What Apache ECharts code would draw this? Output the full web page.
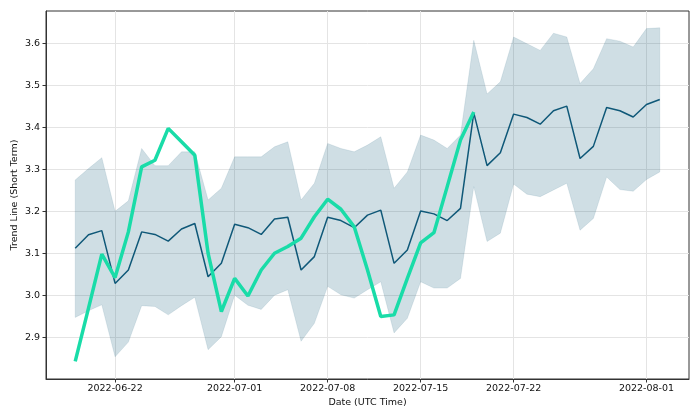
<!DOCTYPE html>
<html>
<head>
<meta charset="utf-8">
<script src="https://cdn.jsdelivr.net/npm/echarts@6/dist/echarts.min.js"></script>
<style>
html,body{margin:0;padding:0;background:#fff;}
#chart{width:699px;height:419px;}
</style>
</head>
<body>
<div id="chart"></div>
<script>
const dates = [
  '2022-06-19','2022-06-20','2022-06-21','2022-06-22','2022-06-23','2022-06-24','2022-06-25','2022-06-26','2022-06-27','2022-06-28',
  '2022-06-29','2022-06-30','2022-07-01','2022-07-02','2022-07-03','2022-07-04','2022-07-05','2022-07-06','2022-07-07','2022-07-08',
  '2022-07-09','2022-07-10','2022-07-11','2022-07-12','2022-07-13','2022-07-14','2022-07-15','2022-07-16','2022-07-17','2022-07-18',
  '2022-07-19','2022-07-20','2022-07-21','2022-07-22','2022-07-23','2022-07-24','2022-07-25','2022-07-26','2022-07-27','2022-07-28',
  '2022-07-29','2022-07-30','2022-07-31','2022-08-01','2022-08-02'
];
const trend = [
  3.112,3.144,3.154,3.028,3.060,3.151,3.145,3.129,3.158,3.171,
  3.044,3.076,3.169,3.161,3.145,3.182,3.186,3.060,3.092,3.186,
  3.178,3.161,3.191,3.203,3.076,3.108,3.201,3.194,3.178,3.207,
  3.435,3.309,3.340,3.432,3.424,3.408,3.440,3.451,3.326,3.355,
  3.448,3.440,3.425,3.455,3.467
];
const upper = [
  3.275,3.302,3.328,3.200,3.225,3.350,3.309,3.309,3.342,3.342,
  3.227,3.255,3.330,3.330,3.330,3.354,3.366,3.227,3.267,3.362,
  3.350,3.342,3.358,3.378,3.255,3.294,3.382,3.370,3.350,3.382,
  3.608,3.480,3.509,3.616,3.600,3.584,3.625,3.616,3.505,3.540,
  3.612,3.606,3.592,3.636,3.638
];
const lower = [
  2.947,2.963,2.977,2.853,2.888,2.975,2.973,2.953,2.975,2.995,
  2.870,2.901,3.000,2.976,2.966,3.000,3.013,2.890,2.933,3.021,
  3.001,2.993,3.013,3.032,2.910,2.945,3.032,3.017,3.017,3.040,
  3.259,3.128,3.148,3.265,3.241,3.235,3.251,3.267,3.155,3.183,
  3.282,3.252,3.248,3.276,3.294
];
const actual = [
  2.842,2.969,3.098,3.042,3.151,3.306,3.322,3.398,3.366,3.334,
  3.100,2.961,3.040,2.998,3.060,3.100,3.116,3.136,3.187,3.229,
  3.205,3.163,3.060,2.949,2.953,3.040,3.125,3.149,3.259,3.370,
  3.437
];
const xTickLabels = ['2022-06-22','2022-07-01','2022-07-08','2022-07-15','2022-07-22','2022-08-01'];
const yTickLabels = [2.9,3.0,3.1,3.2,3.3,3.4,3.5,3.6];

const DAY = 86400000;
function ts(s){ const p = s.split('-'); return Date.UTC(+p[0], +p[1]-1, +p[2]) / DAY; }
function fmt(v){ const d = new Date(Math.round(v) * DAY); const m = d.getUTCMonth()+1, dd = d.getUTCDate();
  return d.getUTCFullYear() + '-' + (m<10?'0':'') + m + '-' + (dd<10?'0':'') + dd; }

const t0 = ts(dates[0]), t1 = ts(dates[dates.length-1]);
const span = t1 - t0;
const xMin = t0 - span*0.05, xMax = t1 + span*0.05;

const bandData = dates.map((d,i)=>[ts(d), lower[i], upper[i]]);
const trendData = dates.map((d,i)=>[ts(d), trend[i]]);
const actualData = actual.map((v,i)=>[ts(dates[i]), v]);

function renderBand(params, api){
  if (params.dataIndex !== 0) return null;
  const pts = [];
  for (let i = 0; i < bandData.length; i++) pts.push(api.coord([bandData[i][0], bandData[i][2]]));
  for (let i = bandData.length - 1; i >= 0; i--) pts.push(api.coord([bandData[i][0], bandData[i][1]]));
  return {type:'polygon', shape:{points: pts}, style:{fill:'rgba(16,88,120,0.2)', stroke:'rgba(16,88,120,0.1)', lineWidth:1}};
}

const font = 'DejaVu Sans';
const chart = echarts.init(document.getElementById('chart'), null, {renderer:'canvas'});
chart.setOption({
  animation: false,
  backgroundColor: '#fff',
  grid: {left:46, right:10, top:11, bottom:40, outerBoundsMode:'none', containLabel:false,
         show:true, borderColor:'#333', borderWidth:1, backgroundColor:'transparent'},
  xAxis: {
    type: 'value', min: xMin, max: xMax, scale: true,
    name: 'Date (UTC Time)', nameLocation: 'middle', nameGap: 19, nameMoveOverlap: false,
    nameTextStyle: {fontFamily: font, fontSize: 9.5, color: '#111', verticalAlign: 'top'},
    axisLine: {show: true, onZero: false, lineStyle: {color: '#333', width: 1}},
    axisTick: {show: true, length: 3.5, lineStyle: {color: '#333'}, customValues: xTickLabels.map(ts)},
    axisLabel: {customValues: xTickLabels.map(ts), formatter: v => fmt(v), fontFamily: font, fontSize: 9.5, color: '#111', margin: 5, hideOverlap: false},
    splitLine: {show: true, lineStyle: {color: '#e4e4e4', width: 1}}
  },
  yAxis: {
    type: 'value', min: 2.8, max: 3.678, interval: 0.1,
    name: 'Trend Line (Short Term)', nameLocation: 'middle', nameGap: 26, nameMoveOverlap: false,
    nameTextStyle: {fontFamily: font, fontSize: 9.5, color: '#111'},
    axisLine: {show: true, onZero: false, lineStyle: {color: '#333', width: 1}},
    axisTick: {show: true, length: 3.5, lineStyle: {color: '#333'}, customValues: yTickLabels},
    axisLabel: {customValues: yTickLabels, formatter: v => (+v).toFixed(1), fontFamily: font, fontSize: 9.5, color: '#111', margin: 6},
    splitLine: {show: true, lineStyle: {color: '#e4e4e4', width: 1}}
  },
  series: [
    {type:'custom', data: bandData, renderItem: renderBand, silent:true, z:2,
     encode:{x:0, y:[1,2]}, clip:true},
    {type:'line', data: trendData, symbol:'none', silent:true,
     lineStyle:{color:'#0f5878', width:1.5}, z:3},
    {type:'line', data: actualData, symbol:'none', silent:true,
     lineStyle:{color:'#19dca8', width:3.5}, z:4}
  ]
});
</script>
</body>
</html>
